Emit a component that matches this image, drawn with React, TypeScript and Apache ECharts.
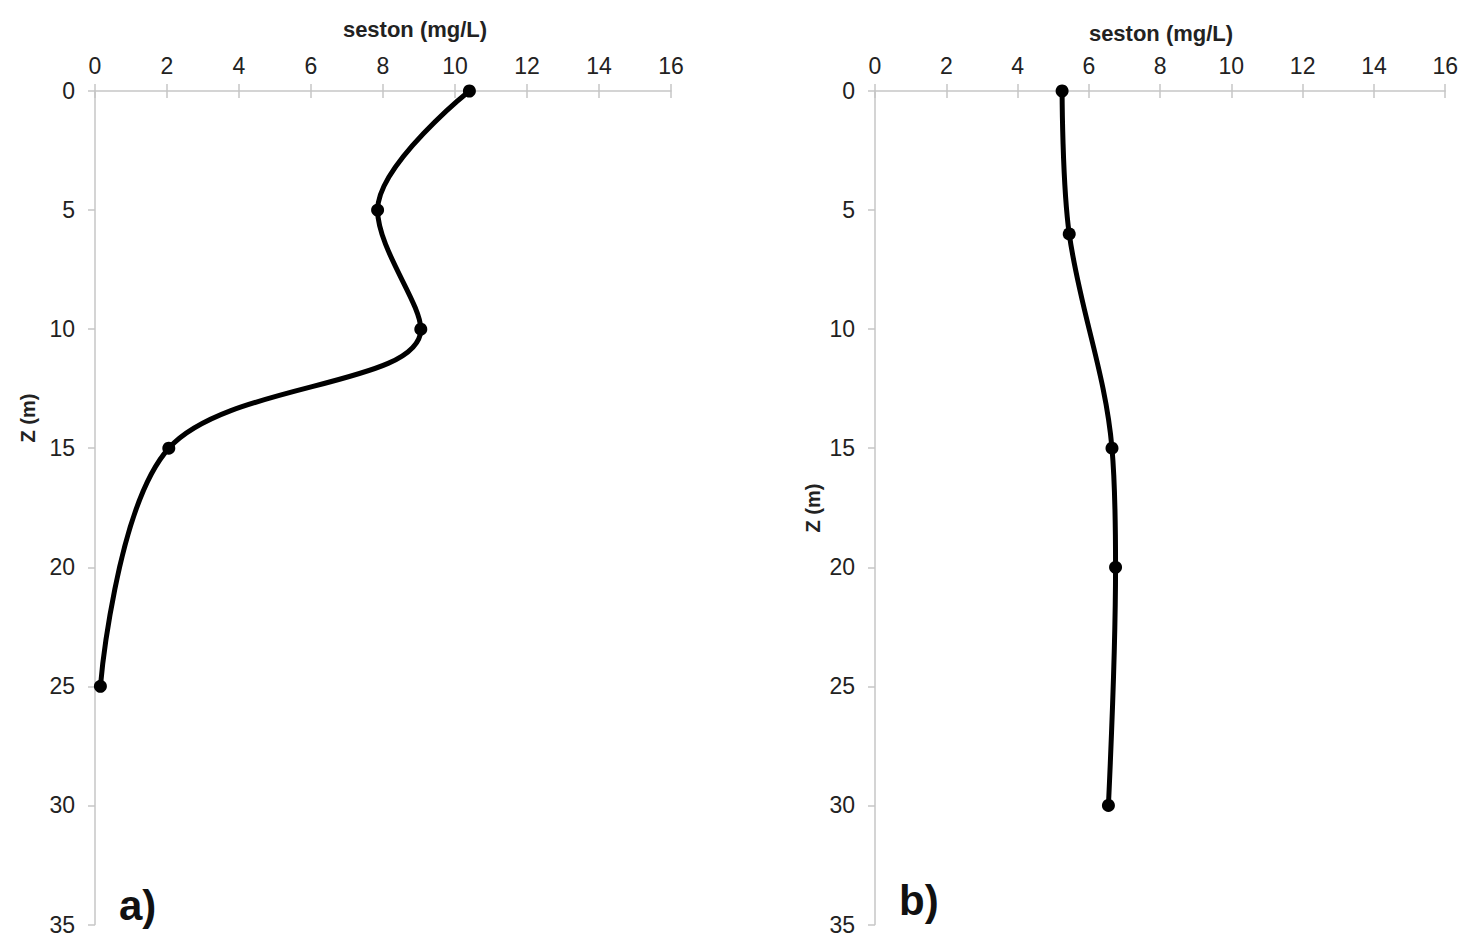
import React, { useEffect, useRef } from "react";
import * as echarts from "echarts";

const depthA = [0, 5, 10, 15, 25];
const sestonA = [10.4, 7.85, 9.05, 2.05, 0.15];
const depthB = [0, 6, 15, 20, 30];
const sestonB = [5.25, 5.45, 6.65, 6.75, 6.55];
const xTitle = "seston (mg/L)";
const yTitle = "Z (m)";
const panelLabels = ["a)", "b)"];

const axisGray = "#c6c6c6";
const textColor = "#222";
const font = "Liberation Sans, Arial, sans-serif";

export default function App() {
  const ref = useRef<HTMLDivElement>(null);
  useEffect(() => {
    const chart = echarts.init(ref.current!, null, { renderer: "svg" });
    const grids = [
      { left: 95, top: 91, width: 576, height: 836 },
      { left: 875, top: 91, width: 571, height: 834 },
    ];
    const xAxes: any[] = [];
    const yAxes: any[] = [];
    grids.forEach((g, i) => {
      xAxes.push({
        type: "value",
        gridIndex: i,
        position: "top",
        min: 0,
        max: 16,
        interval: 2,
        axisLine: { show: true, lineStyle: { color: axisGray, width: 1.5 } },
        axisTick: { show: true, length: 7, inside: false, lineStyle: { color: axisGray, width: 1.5 } },
        axisLabel: { fontFamily: font, fontSize: 23, color: textColor, margin: 14 },
        splitLine: { show: false },
      });
      xAxes.push({
        type: "value",
        gridIndex: i,
        position: "top",
        min: 0,
        max: 16,
        interval: 2,
        axisLine: { show: false },
        axisTick: { show: true, length: 7, inside: true, lineStyle: { color: axisGray, width: 1.5 } },
        axisLabel: { show: false },
        splitLine: { show: false },
      });
      yAxes.push({
        type: "value",
        gridIndex: i,
        inverse: true,
        min: 0,
        max: 35,
        interval: 5,
        axisLine: { show: true, lineStyle: { color: axisGray, width: 1.5 } },
        axisTick: { show: true, length: 7, lineStyle: { color: axisGray, width: 1.5 } },
        axisLabel: { fontFamily: font, fontSize: 23, color: textColor, margin: 20 },
        splitLine: { show: false },
      });
    });
    const mk = (xs: number[], ys: number[]) => xs.map((x, k) => [x, ys[k]]);
    const seriesCommon = {
      type: "line",
      smooth: 0.35,
      symbol: "circle",
      symbolSize: 13,
      lineStyle: { color: "#000", width: 5 },
      itemStyle: { color: "#000" },
    };
    const titleStyle = (text: string) => ({
      text,
      font: `bold 22px ${font}`,
      fill: textColor,
      align: "center",
      verticalAlign: "middle",
    });
    chart.setOption({
      animation: false,
      backgroundColor: "#fff",
      grid: grids,
      xAxis: xAxes,
      yAxis: yAxes,
      series: [
        { ...seriesCommon, xAxisIndex: 0, yAxisIndex: 0, data: mk(sestonA, depthA) },
        { ...seriesCommon, xAxisIndex: 2, yAxisIndex: 1, data: mk(sestonB, depthB) },
      ],
      graphic: [
        { type: "text", x: 415, y: 29, style: titleStyle(xTitle) },
        { type: "text", x: 1161, y: 33, style: titleStyle(xTitle) },
        {
          type: "text",
          x: 28,
          y: 418,
          rotation: Math.PI / 2,
          style: { text: yTitle, font: `bold 20px ${font}`, fill: textColor, align: "center", verticalAlign: "middle" },
        },
        {
          type: "text",
          x: 813,
          y: 508,
          rotation: Math.PI / 2,
          style: { text: yTitle, font: `bold 20px ${font}`, fill: textColor, align: "center", verticalAlign: "middle" },
        },
        {
          type: "text",
          x: 119,
          y: 905,
          style: { text: panelLabels[0], font: `bold 42px ${font}`, fill: "#111", verticalAlign: "middle" },
        },
        {
          type: "text",
          x: 899,
          y: 900,
          style: { text: panelLabels[1], font: `bold 42px ${font}`, fill: "#111", verticalAlign: "middle" },
        },
      ],
    });
    return () => chart.dispose();
  }, []);
  return (
    <div
      ref={ref}
      style={{ position: "fixed", left: 0, top: 0, width: 1461, height: 936, background: "#fff" }}
    />
  );
}
